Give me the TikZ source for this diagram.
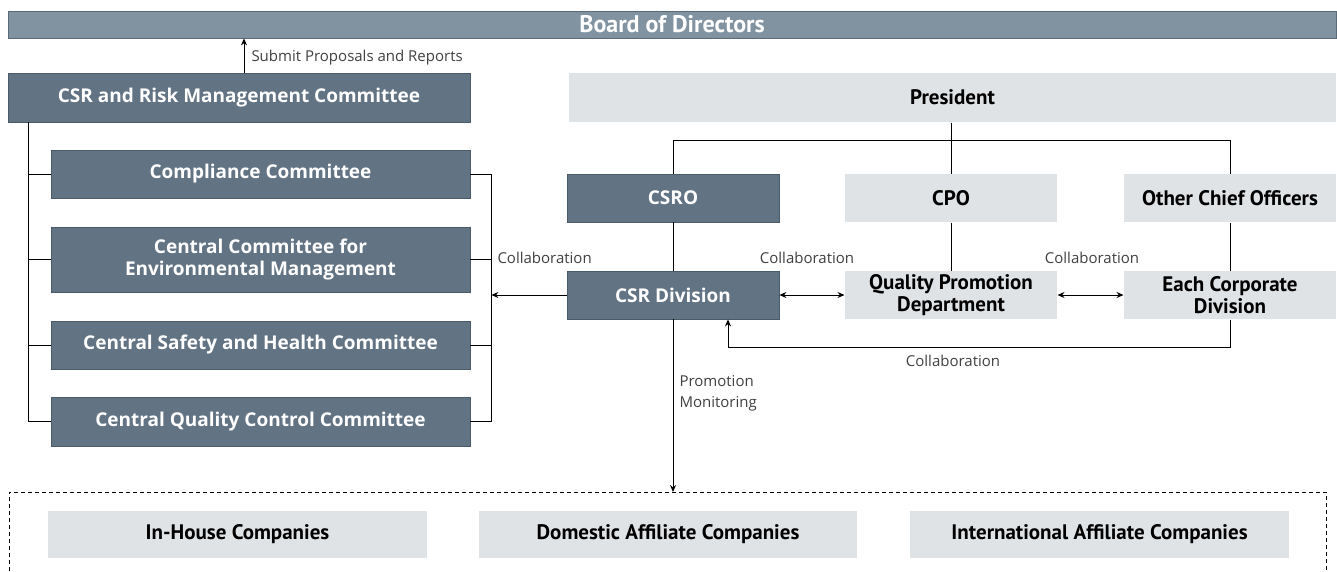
\documentclass[tikz,border=0pt]{standalone}
\usepackage{fontspec}
\setmainfont{PT Sans}
\newfontfamily\darkfont{Open Sans}
\usetikzlibrary{arrows.meta,calc}
\definecolor{boardcol}{HTML}{8193A0}
\definecolor{boardline}{HTML}{5A6A77}
\definecolor{darkcol}{HTML}{627383}
\definecolor{darkline}{HTML}{4B5A67}
\definecolor{lightcol}{HTML}{E0E3E6}

\begin{document}
\begin{tikzpicture}[x=1pt, y=-1pt, line width=1pt,
    board/.style={fill=boardcol, draw=boardline, line width=0.8pt, text=white, inner sep=0pt,
      font=\bfseries\fontsize{24}{26}\selectfont},
    darkbox/.style={fill=darkcol, draw=darkline, line width=0.8pt, text=white, align=center, inner sep=0pt,
      font=\darkfont\bfseries\fontsize{19}{22}\selectfont},
    lightbox/.style={fill=lightcol, align=center, inner sep=0pt, font=\bfseries\fontsize{21}{22}\selectfont},
    lbl/.style={font=\darkfont\fontsize{15}{21}\selectfont, text=black!75, inner sep=0pt},
    arr/.style={-{Stealth[length=7pt,width=6pt]}},
    dbl/.style={{Stealth[length=7pt,width=6pt]}-{Stealth[length=7pt,width=6pt]}}]
  \useasboundingbox (0,0) rectangle (1337,571);

  % top
  \node[board, minimum width=1328, minimum height=27] (board) at (672,24.5) {Board of Directors};
  \node[darkbox, minimum width=462, minimum height=49] (csrrisk) at (239,97.5) {CSR and Risk Management Committee};
  \node[lightbox, minimum width=767, minimum height=49] (pres) at (952.5,97.5) {President};

  % committees
  \node[darkbox, minimum width=419, minimum height=48] (compl) at (260.5,174) {Compliance Committee};
  \node[darkbox, minimum width=419, minimum height=65] (envir) at (260.5,259.5) {Central Committee for\\Environmental Management};
  \node[darkbox, minimum width=419, minimum height=48] (safety) at (260.5,345) {Central Safety and Health Committee};
  \node[darkbox, minimum width=419, minimum height=49] (qualcc) at (260.5,421.5) {Central Quality Control Committee};

  % officers
  \node[darkbox, minimum width=212, minimum height=48] (csro) at (673,198) {CSRO};
  \node[lightbox, minimum width=212, minimum height=48] (cpo) at (951,198) {CPO};
  \node[lightbox, minimum width=212, minimum height=48] (other) at (1230,198) {Other Chief Officers};

  % divisions
  \node[darkbox, minimum width=212, minimum height=48] (csrdiv) at (673,295) {CSR Division};
  \node[lightbox, minimum width=212, minimum height=48] (qpd) at (951,295) {Quality Promotion\\Department};
  \node[lightbox, minimum width=212, minimum height=48] (ecd) at (1230,295) {Each Corporate\\Division};

  % group companies
  \coordinate (gnw) at (9,492);
  \coordinate (gne) at (1326,492);
  \draw[line width=0.8pt, dash pattern=on 4pt off 3pt] (9,571) -- (gnw) -- (gne) -- (1326,571);
  \node[lightbox, minimum width=379, minimum height=47] (inhouse) at (237.5,534.5) {In-House Companies};
  \node[lightbox, minimum width=378, minimum height=47] (domestic) at (668,534.5) {Domestic Affiliate Companies};
  \node[lightbox, minimum width=379, minimum height=47] (intl) at (1099.5,534.5) {International Affiliate Companies};

  % labels
  \node[lbl, anchor=west] (submitlbl) at (251,58) {Submit Proposals and Reports};
  \node[lbl, anchor=west] (collabA) at (497,258) {Collaboration};
  \node[lbl] (collabB) at (807,258) {Collaboration};
  \node[lbl] (collabC) at (1092,258) {Collaboration};
  \node[lbl] (collabD) at (953,361) {Collaboration};
  \node[lbl, anchor=west, align=left] (promo) at (679,393) {Promotion\\Monitoring};

  % connectors
  \coordinate (submitfoot) at ($(csrrisk.north)+(5,0)$);
  \draw[arr] (submitfoot) -- (submitfoot |- board.south);

  \coordinate (trunk) at ($(csrrisk.south west)+(21,0)$);
  \draw (trunk) |- (qualcc.west);
  \draw (trunk |- compl.west) -- (compl.west);
  \draw (trunk |- envir.west) -- (envir.west);
  \draw (trunk |- safety.west) -- (safety.west);

  \coordinate (brk) at ($(compl.east)+(21,0)$);
  \draw (compl.east) -- (brk) |- (qualcc.east);
  \draw (envir.east) -- (envir.east -| brk);
  \draw (safety.east) -- (safety.east -| brk);
  \draw[arr] (csrdiv.west) -- (csrdiv.west -| brk);

  \draw (pres.south -| cpo.north) -- (cpo.north);
  \draw (csro.north) -- ++(0,-33) -| (other.north);
  \draw (csro.south) -- (csrdiv.north);
  \draw (cpo.south) -- (qpd.north);
  \draw (other.south) -- (ecd.north);

  \draw[dbl] (csrdiv.east) -- (qpd.west);
  \draw[dbl] (qpd.east) -- (ecd.west);
  \draw[arr] (ecd.south) -- ++(0,28) -| ($(csrdiv.south)+(55,0)$);
  \draw[arr] (csrdiv.south) -- (csrdiv.south |- gnw);
\end{tikzpicture}
\end{document}
